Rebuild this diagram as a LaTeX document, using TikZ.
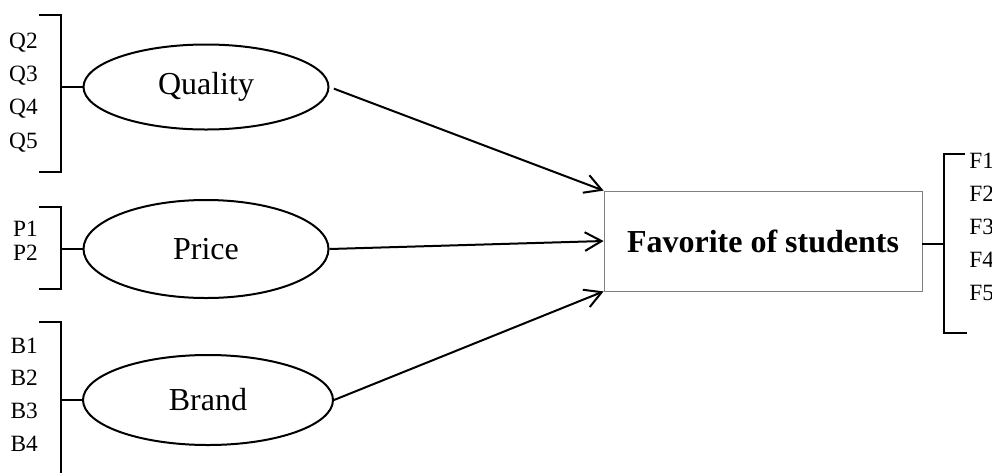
\documentclass[tikz,border=0pt]{standalone}
\usepackage{fontspec}
\setmainfont{Liberation Serif}
\usetikzlibrary{shapes.geometric,arrows.meta}

\tikzset{
  latent/.style={ellipse, draw, line width=1.5pt, inner sep=0pt,
    font=\fontsize{24}{28}\selectfont},
  target/.style={rectangle, draw=gray, line width=0.6pt, inner sep=0pt,
    minimum width=238.5pt, minimum height=75pt,
    font=\fontsize{24}{28}\selectfont\bfseries},
  item/.style={inner sep=0pt, anchor=base east, font=\fontsize{17.5}{20}\selectfont},
  fitem/.style={inner sep=0pt, anchor=base west, font=\fontsize{17.5}{20}\selectfont},
  bracket/.style={line width=1.5pt},
  path arrow/.style={line width=1.5pt, -{Straight Barb[length=12.5pt,width=14pt,line width=1.5pt]}},
}

\begin{document}
\begin{tikzpicture}[x=0.75pt, y=-0.75pt]
\useasboundingbox (0,0) rectangle (992,472);

% latent constructs
\node[latent, minimum width=183.75pt, minimum height=63.75pt] (qual) at (206,87) {Quality};
\node[latent, minimum width=183.75pt, minimum height=73.5pt] (price) at (206,249) {Price};
\node[latent, minimum width=187.5pt, minimum height=67.5pt] (brand) at (208,400) {Brand};

% dependent construct
\node[target] (fav) at (763,241) {Favorite of students};

% indicators of Quality
\node[item] (q2) at (38,48.5) {Q2};
\node[item] (q3) at (38,81.5) {Q3};
\node[item] (q4) at (38,114.5) {Q4};
\node[item] (q5) at (38,148) {Q5};
\coordinate (qa) at (39,15);
\coordinate (qb) at (61,15);
\coordinate (qc) at (61,172);
\coordinate (qd) at (39,172);
\coordinate (qm) at (61,87);
\draw[bracket] (qa) -- (qb) -- (qc) -- (qd);
\draw[bracket] (qm) -- (qual.west);

% indicators of Price
\node[item] (p1) at (38,236) {P1};
\node[item] (p2) at (38,260) {P2};
\coordinate (pa) at (39,207);
\coordinate (pb) at (61,207);
\coordinate (pc) at (61,289);
\coordinate (pd) at (39,289);
\coordinate (pm) at (61,249);
\draw[bracket] (pa) -- (pb) -- (pc) -- (pd);
\draw[bracket] (pm) -- (price.west);

% indicators of Brand
\node[item] (b1) at (38,353) {B1};
\node[item] (b2) at (38,385.5) {B2};
\node[item] (b3) at (38,418.5) {B3};
\node[item] (b4) at (38,451.5) {B4};
\coordinate (ba) at (39,322);
\coordinate (bb) at (61,322);
\coordinate (bc) at (61,480);
\coordinate (bm) at (61,400);
\draw[bracket] (ba) -- (bb) -- (bc);
\draw[bracket] (bm) -- (brand.west);

% indicators of Favorite
\node[fitem] (f1) at (969,168) {F1};
\node[fitem] (f2) at (969,201) {F2};
\node[fitem] (f3) at (969,234) {F3};
\node[fitem] (f4) at (969,267) {F4};
\node[fitem] (f5) at (969,300) {F5};
\coordinate (fa) at (965,154);
\coordinate (fb) at (944,154);
\coordinate (fc) at (944,333);
\coordinate (fd) at (967,333);
\coordinate (fm) at (944,244);
\draw[bracket] (fa) -- (fb) -- (fc) -- (fd);
\draw[bracket] (fav.east |- fm) -- (fm);

% structural paths
\draw[path arrow, shorten <=3.5pt] (qual.east) -- (fav.north west);
\draw[path arrow] (price.east) -- (fav.west);
\draw[path arrow] (brand.east) -- (fav.south west);
\end{tikzpicture}
\end{document}
